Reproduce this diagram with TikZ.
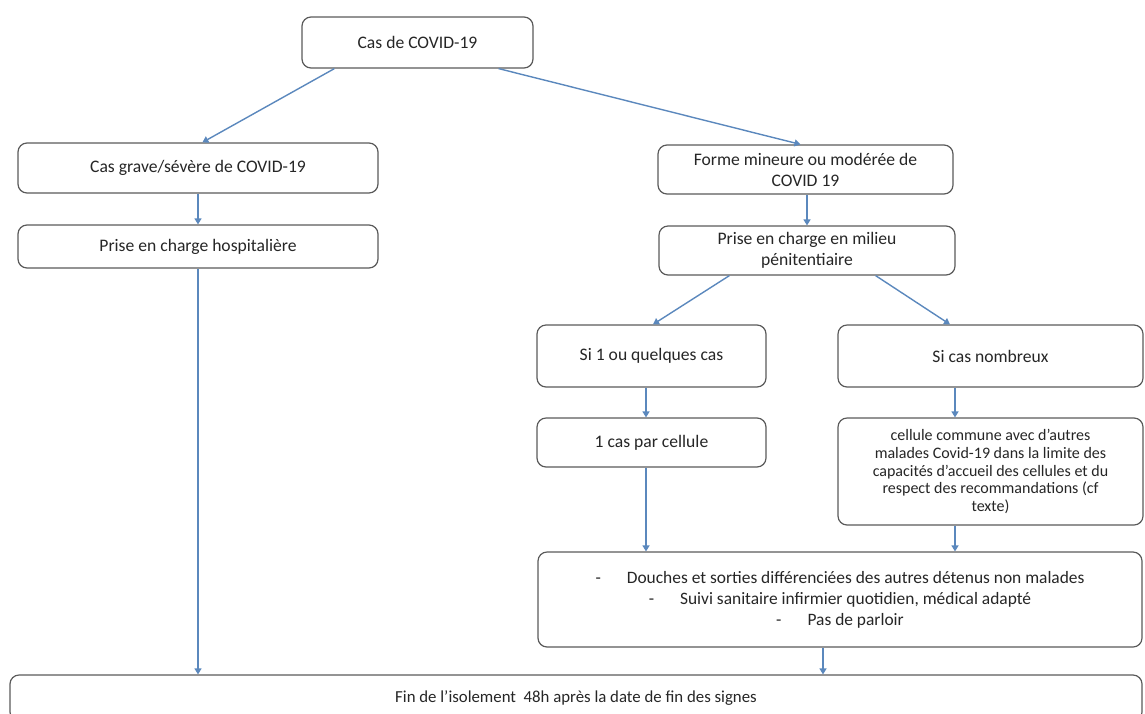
\documentclass[tikz,border=0pt]{standalone}
\usepackage{fontspec}
\setmainfont{Carlito}
\usetikzlibrary{arrows.meta}
\definecolor{boxgray}{HTML}{5A5A5A}
\definecolor{arrblue}{HTML}{5B88BD}
\definecolor{txt}{HTML}{262626}
\begin{document}
\begin{tikzpicture}[x=1pt,y=-1pt,
  box/.style={draw=boxgray, line width=1.2pt, rounded corners=9pt, inner sep=0pt,
    align=center, text=txt, fill=white, font=\fontsize{17.6}{21}\selectfont},
  arr/.style={draw=arrblue, line width=1.4pt, -{Triangle[width=7pt,length=6pt]}}]
\useasboundingbox (0,0) rectangle (1145,713);
\clip (0,0) rectangle (1145,713);

\node[box, minimum width=231pt, minimum height=51pt] (cas) at (417.5,42.5) {Cas de COVID-19};
\node[box, minimum width=360pt, minimum height=50pt] (grave) at (198,168) {Cas grave/sévère de COVID-19};
\node[box, minimum width=360pt, minimum height=43pt] (hosp) at (198,246.5) {Prise en charge hospitalière};
\node[box, minimum width=295pt, minimum height=49pt] (forme) at (805.5,169.5) {Forme mineure ou modérée de\\COVID 19};
\node[box, minimum width=296pt, minimum height=49pt] (milieu) at (807,250.5) {Prise en charge en milieu\\pénitentiaire};
\node[box, minimum width=229pt, minimum height=62pt] (si1) at (651.5,356) {Si 1 ou quelques cas};
\node[box, minimum width=305pt, minimum height=62pt] (sin) at (990.5,356) {Si cas nombreux};
\node[box, minimum width=229pt, minimum height=49pt] (un) at (651.5,442.5) {1 cas par cellule};
\node[box, font=\fontsize{16}{17.8}\selectfont, minimum width=305pt, minimum height=107pt] (cell) at (990.5,471.5)
  {cellule commune avec d’autres\\malades Covid-19 dans la limite des\\capacités d’accueil des cellules et du\\respect des recommandations (cf\\texte)};
\node[box, font=\fontsize{17.4}{21}\selectfont, minimum width=604pt, minimum height=95pt] (douch) at (840,599.5)
  {-\hspace{26pt}Douches et sorties différenciées des autres détenus non malades\\
   -\hspace{26pt}Suivi sanitaire infirmier quotidien, médical adapté\\
   -\hspace{26pt}Pas de parloir};
\node[box, font=\fontsize{16.8}{20}\selectfont, minimum width=1132pt, minimum height=46pt] (fin) at (576,698)
  {Fin de l’isolement~ 48h après la date de fin des signes};

\draw[arr] ([xshift=33pt]cas.south west) -- ([xshift=185pt]grave.north west);
\draw[arr] ([xshift=-35pt]cas.south east) -- ([xshift=-5pt]forme.north);
\draw[arr] (grave.south) -- (hosp.north);
\draw[arr] (hosp.south) -- (hosp.south |- fin.north);
\draw[arr] (milieu.north |- forme.south) -- (milieu.north);
\draw[arr] ([xshift=71pt]milieu.south west) -- ([xshift=1.5pt]si1.north);
\draw[arr] ([xshift=-80pt]milieu.south east) -- ([xshift=-40.5pt]sin.north);
\draw[arr] ([xshift=-5.5pt]si1.south) -- ([xshift=-5.5pt]un.north);
\draw[arr] ([xshift=-5.5pt]un.south) -- ([xshift=-5.5pt]un.south |- douch.north);
\draw[arr] ([xshift=-35.5pt]sin.south) -- ([xshift=-35.5pt]cell.north);
\draw[arr] ([xshift=-35.5pt]cell.south) -- ([xshift=-35.5pt]cell.south |- douch.north);
\draw[arr] ([xshift=-17pt]douch.south) -- ([xshift=-17pt]douch.south |- fin.north);
\end{tikzpicture}
\end{document}
